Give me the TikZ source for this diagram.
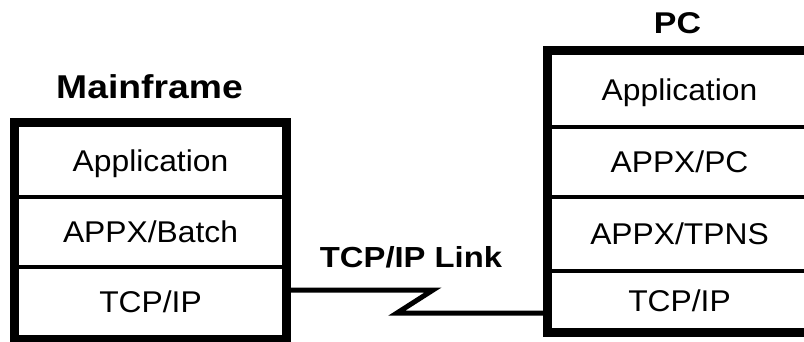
\documentclass[tikz,border=0pt]{standalone}
\usepackage{fontspec}
\setmainfont{Liberation Sans}[FakeStretch=1.06]
\newfontfamily\titlefont{Liberation Sans Bold}[FakeStretch=1.13]
\begin{document}
\begin{tikzpicture}[x=1bp,y=-1bp,
  row/.style={draw,line width=4bp,rectangle,inner sep=0pt,anchor=north west,
    font=\fontsize{30bp}{33bp}\selectfont,text height=21.5bp,text depth=0pt},
  frame/.style={line width=9bp},
  title/.style={font=\fontsize{33bp}{36bp}\titlefont,anchor=base,inner sep=0pt},
  link/.style={line width=5bp,miter limit=10}]
\useasboundingbox (0,0) rectangle (804,341);
% Mainframe
\node[row,minimum width=268bp,minimum height=72.5bp] (m1) at (14.5,122.5) {Application};
\node[row,minimum width=268bp,minimum height=70bp] (m2) at (14.5,195) {APPX/Batch};
\node[row,minimum width=268bp,minimum height=70bp] (m3) at (14.5,265) {TCP/IP};
\draw[frame] (m1.north west) rectangle (m3.south east);
\node[title] (mt) at (149.5,98) {Mainframe};
% PC
\node[row,minimum width=261bp,minimum height=75bp] (p1) at (547,50) {Application};
\node[row,minimum width=261bp,minimum height=70bp] (p2) at (547,125) {APPX/PC};
\node[row,minimum width=261bp,minimum height=74bp] (p3) at (547,195) {APPX/TPNS};
\node[row,minimum width=261bp,minimum height=59bp] (p4) at (547,269) {TCP/IP};
\draw[frame] (p1.north west) rectangle (p4.south east);
\node[title,font=\fontsize{30bp}{33bp}\titlefont] (pt) at (677.5,33) {PC};
% link
\coordinate (z1) at (433,290);
\coordinate (z2) at (397,313);
\draw[link] (m3.east |- z1) -- (z1) -- (z2) -- (p4.west |- z2);
\node[title,font=\fontsize{29bp}{32bp}\titlefont] (lk) at (411,267) {TCP/IP Link};
\end{tikzpicture}
\end{document}
